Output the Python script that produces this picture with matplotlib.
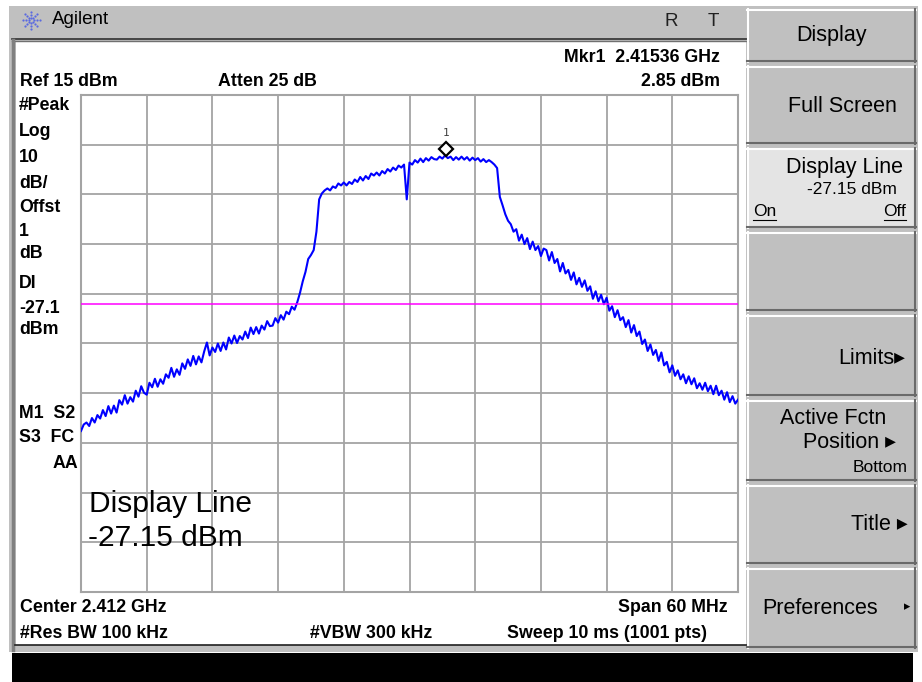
import numpy as np
import matplotlib.pyplot as plt
from matplotlib.patches import Rectangle
from matplotlib.lines import Line2D
from matplotlib.transforms import offset_copy

plt.rcParams['font.family'] = ['Liberation Sans', 'DejaVu Sans']

# sweep settings
center_ghz = 2.412
span_mhz = 60
ref_dbm = 15
db_per_div = 10
display_line = -27.15
mkr_ghz = 2.41536
mkr_dbm = 2.85

# trace, 0.25 MHz steps from 2.382 GHz
trace_dbm = [
    -52.6, -51.3, -50.9, -51.6, -50.0, -50.9, -49.4, -50.1, -48.4, -49.6,
    -47.6, -49.1, -47.5, -48.9, -46.4, -47.3, -45.4, -47.1, -45.8, -46.7,
    -44.5, -45.7, -43.6, -44.9, -45.3, -42.9, -43.8, -42.1, -43.7, -42.2,
    -43.1, -41.2, -41.9, -39.9, -41.7, -40.2, -41.3, -39.0, -40.1, -38.2,
    -39.5, -37.5, -39.2, -37.6, -38.8, -36.6, -34.8, -37.4, -35.8, -36.7,
    -35.0, -36.5, -34.8, -36.2, -33.8, -35.0, -33.4, -34.9, -33.5, -34.2,
    -32.6, -33.9, -31.8, -33.1, -31.7, -33.0, -31.4, -32.2, -30.5, -31.5,
    -31.4, -29.9, -30.8, -29.3, -30.2, -28.6, -29.1, -27.6, -28.2, -26.7,
    -24.8, -22.5, -20.6, -18.0, -17.2, -16.2, -12.5, -6.0, -4.8, -4.2,
    -3.8, -4.2, -3.4, -3.7, -2.8, -3.2, -2.6, -3.2, -2.5, -2.9,
    -2.0, -2.5, -1.5, -2.2, -1.3, -1.9, -0.8, -1.2, -0.6, -1.2,
    -0.3, -0.8, 0.1, -0.4, 0.4, -0.1, 0.8, 0.4, 1.0, -6.0,
    1.4, 1.0, 1.9, 1.4, 2.2, 1.5, 2.3, 1.8, 2.5, 2.1,
    2.0, 2.6, 2.2, 2.85, 2.3, 2.6, 1.9, 2.5, 2.0, 2.6,
    2.0, 2.5, 1.8, 2.4, 1.9, 2.3, 1.6, 2.1, 1.5, 1.9,
    1.5, 1.0, 0.3, -5.5, -7.2, -9.0, -10.3, -11.0, -12.5, -12.0,
    -14.3, -13.1, -15.0, -13.8, -16.0, -14.5, -16.2, -15.4, -17.4, -15.9,
    -16.2, -18.3, -16.6, -18.8, -18.0, -20.5, -18.8, -20.9, -20.2, -22.2,
    -20.7, -23.1, -21.8, -23.6, -22.3, -24.4, -23.5, -26.0, -24.5, -26.5,
    -25.2, -27.1, -25.8, -28.4, -27.5, -29.7, -28.3, -30.3, -29.7, -31.7,
    -30.3, -32.8, -31.3, -33.5, -32.6, -35.1, -34.2, -36.5, -35.2, -37.3,
    -36.3, -38.5, -36.8, -39.4, -38.7, -40.8, -39.4, -41.5, -40.4, -42.2,
    -41.2, -43.0, -41.6, -43.2, -42.0, -44.0, -43.0, -44.3, -42.9, -44.6,
    -43.5, -45.2, -43.5, -45.4, -44.5, -46.3, -44.8, -46.8, -45.6, -47.1,
    -46.3,
]

left_labels = ['#Peak', 'Log', '10', 'dB/', 'Offst', '1', 'dB', 'DI', '-27.1', 'dBm']
left_label_y = [105, 132, 157, 183, 208, 232, 254, 283, 308, 330]

W, H = 922, 682
fig = plt.figure(figsize=(W / 100, H / 100), dpi=100)
fig.patch.set_facecolor('white')


def rect(x0, y0, x1, y1, color, z=0):
    fig.patches.append(Rectangle((x0 / W, 1 - y1 / H), (x1 - x0) / W, (y1 - y0) / H,
                                 transform=fig.transFigure, facecolor=color,
                                 edgecolor='none', zorder=z))


def hline(x0, x1, y, color, lw=1.0):
    fig.add_artist(Line2D([x0 / W, x1 / W], [1 - y / H, 1 - y / H], color=color, lw=lw,
                          transform=fig.transFigure))


def vline(x, y0, y1, color, lw=1.0):
    fig.add_artist(Line2D([x / W, x / W], [1 - y0 / H, 1 - y1 / H], color=color, lw=lw,
                          transform=fig.transFigure))


def txt(x, y, s, **kw):
    kw.setdefault('va', 'center')
    return fig.text(x / W, 1 - y / H, s, **kw)


def button(y0, y1, color='#c0c0c0'):
    rect(747, y0, 916, y1, color)
    hline(747, 916, y0 + 1, 'white', 1.5)
    vline(748, y0, y1, 'white', 1.5)
    hline(747, 916, y1 - 1, '#6a6a6a', 1.5)
    vline(915, y0, y1, '#6a6a6a', 1.5)


# frame
rect(9, 6, 918, 652, '#c0c0c0')
rect(16, 41, 746, 645, 'white')
hline(12, 748, 38.5, '#303030', 1.2)
hline(12, 748, 40.5, '#707070', 1.0)
vline(13, 40, 650, '#808080', 2.5)
hline(15, 748, 645, '#202020', 1.2)
rect(12, 653, 913, 682, 'black')

# logo + title bar
for ang in np.arange(0, 360, 45):
    for r in (2.5, 5.5, 8.5):
        fig.add_artist(Line2D([(31 + r * np.cos(np.radians(ang))) / W],
                              [1 - (20 + r * np.sin(np.radians(ang))) / H],
                              marker='o', ms=1.6, mec='none', mfc='#5a6ae0',
                              transform=fig.transFigure))
txt(52, 20, 'Agilent', fontsize=13.5)
txt(665, 21, 'R', fontsize=13.5, color='#202020')
txt(708, 21, 'T', fontsize=13.5, color='#202020')

# softkeys
big = 15.5
small = 12.5
button(9, 62)
txt(831, 36, 'Display', fontsize=big, ha='center')
button(66, 144)
txt(897, 106, 'Full Screen', fontsize=big, ha='right')
button(148, 228, '#e4e4e4')
txt(903, 167, 'Display Line', fontsize=big, ha='right')
txt(897, 190, '-27.15 dBm', fontsize=small, ha='right')
txt(753, 212, 'On', fontsize=small, ha='left')
txt(906, 212, 'Off', fontsize=small, ha='right')
hline(753, 776, 220, 'black', 0.8)
hline(884, 906, 220, 'black', 0.8)
button(232, 311)
button(315, 396)
txt(905, 358, 'Limits\u25b8', fontsize=big, ha='right')
button(400, 481)
txt(886, 418, 'Active Fctn', fontsize=big, ha='right')
txt(896, 443, 'Position \u25b8', fontsize=big, ha='right')
txt(908, 468, 'Bottom', fontsize=small, ha='right')
button(485, 564)
txt(908, 525, 'Title \u25b8', fontsize=big, ha='right')
button(568, 648)
txt(762, 609, 'Preferences', fontsize=big, ha='left')
txt(910, 607, '\u25b8', fontsize=9, ha='right')

# annotation text
bold = dict(fontsize=12.8, fontweight='bold')
txt(720, 58, 'Mkr1  2.41536 GHz', ha='right', **bold)
txt(720, 82, '2.85 dBm', ha='right', **bold)
txt(20, 82, 'Ref 15 dBm', **bold)
txt(218, 82, 'Atten 25 dB', **bold)
for s, y in zip(left_labels, left_label_y):
    txt(19, y, s, **bold)
txt(19, 413, 'M1  S2', **bold)
txt(19, 438, 'S3  FC', **bold)
txt(78, 464, 'AA', ha='right', **bold)
txt(20, 608, 'Center 2.412 GHz', **bold)
txt(20, 633, '#Res BW 100 kHz', **bold)
txt(310, 633, '#VBW 300 kHz', **bold)
txt(728, 608, 'Span 60 MHz', ha='right', **bold)
txt(707, 633, 'Sweep 10 ms (1001 pts)', ha='right', **bold)

# graticule
ax = fig.add_axes([81 / W, 1 - 592 / H, (738 - 81) / W, (592 - 95) / H])
ax.set_zorder(5)
ax.set_facecolor('white')
f0 = center_ghz - span_mhz / 2000
f1 = center_ghz + span_mhz / 2000
ax.set_xlim(f0, f1)
ax.set_ylim(ref_dbm - 10 * db_per_div, ref_dbm)
ax.set_xticks(np.linspace(f0, f1, 11))
ax.set_yticks(np.linspace(ref_dbm - 10 * db_per_div, ref_dbm, 11))
ax.grid(True, color='#a4a4a4', lw=1.3)
ax.tick_params(length=0, labelbottom=False, labelleft=False)
for sp in ax.spines.values():
    sp.set_color('#a4a4a4')
    sp.set_linewidth(1.5)

freqs = np.linspace(f0, f1, len(trace_dbm))
ax.plot(freqs, trace_dbm, color='#0000ff', lw=1.5, zorder=3)
ax.axhline(display_line, color='#ff00ff', lw=1.1, zorder=4)

up6 = offset_copy(ax.transData, fig=fig, y=6, units='dots')
up_lbl = offset_copy(ax.transData, fig=fig, y=17, units='dots')
ax.plot([mkr_ghz], [mkr_dbm], marker='D', ms=7, mfc='white', mec='black', mew=1.6,
        transform=up6, zorder=5, clip_on=False)
ax.text(mkr_ghz, mkr_dbm, '1', transform=up_lbl, ha='center', va='bottom',
        fontsize=8, family='DejaVu Sans Mono', color='#404040')

# active function readout on the graticule
t1 = txt(89, 512, 'Display Line', fontsize=21.5, va='baseline')
t2 = txt(88, 546, '-27.15 dBm', fontsize=21.5, va='baseline')
t1.set_zorder(10)
t2.set_zorder(10)

fig.savefig('out.png', dpi=100)
